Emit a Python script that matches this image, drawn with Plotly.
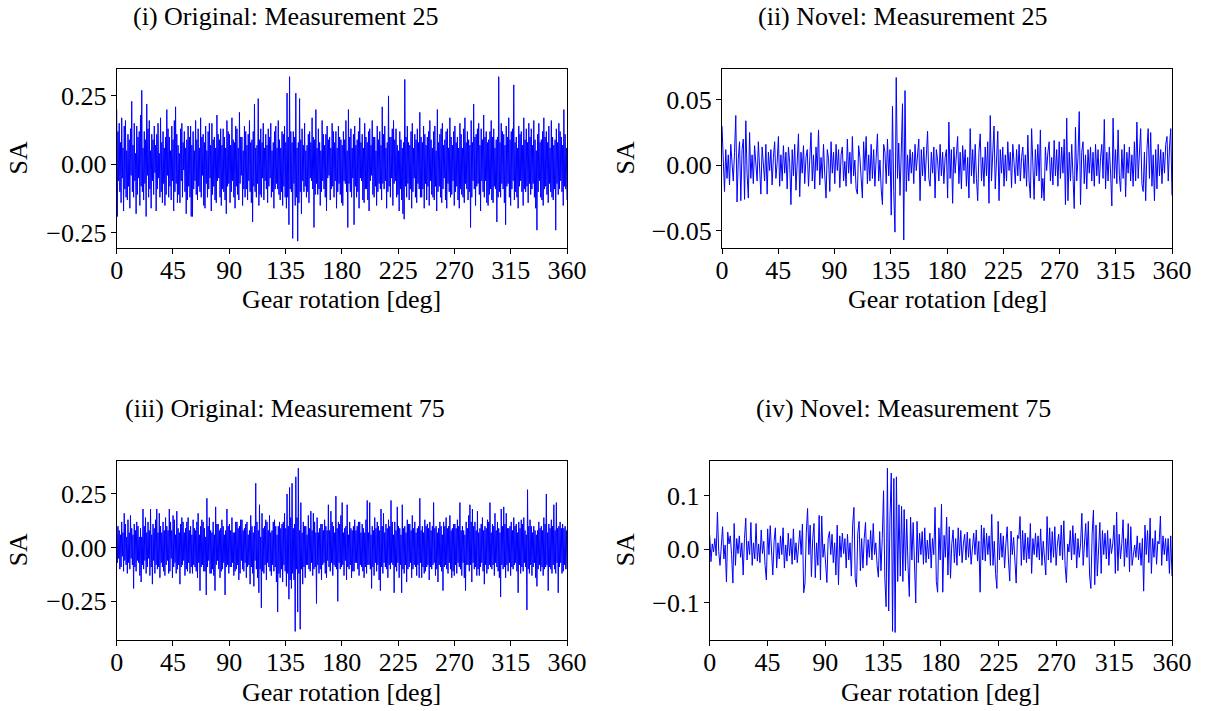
import numpy as np
import plotly.graph_objects as go

# Synchronous-average (SA) signals over one gear revolution
sa_orig_25 = [
    .20, -.19, .12, -.06, .15, -.10, .08, -.14, .17, -.05, .06, -.17, .14, -.09, .16, -.12, .05, -.13, .11, -.08,
    .09, -.16, .13, -.04, .23, -.10, .07, -.12, .15, -.06, .04, -.18, .14, -.11, .10, -.05, .12, -.15, .18, -.08,
    .27, -.10, .06, -.13, .12, -.07, .09, -.19, .22, -.04, .13, -.12, .16, -.09, .05, -.16, .11, -.06, .09, -.11,
    .14, -.03, .07, -.17, .11, -.09, .15, -.05, .04, -.12, .17, -.10, .08, -.14, .12, -.07, .06, -.15, .10, -.11,
    .20, -.04, .13, -.12, .10, -.08, .05, -.13, .14, -.06, .09, -.17, .16, -.10, .21, -.07, .11, -.14, .07, -.11,
    .04, -.14, .13, -.06, .15, -.12, .08, -.02, .12, -.10, .06, -.18, .09, -.13, .14, -.08, .10, -.12, .14, -.19,
    .07, -.19, .12, -.09, .05, -.06, .16, -.11, .09, -.13, .13, -.08, .06, -.10, .17, -.12, .10, -.04, .11, -.15,
    .08, -.16, .14, -.07, .05, -.12, .12, -.09, .15, -.05, .07, -.17, .15, -.11, .09, -.08, .10, -.13, .06, -.14,
    .18, -.06, .11, -.05, .09, -.12, .13, -.15, .07, -.09, .13, -.10, .10, -.13, .06, -.18, .16, -.08, .12, -.07,
    .11, -.14, .07, -.10, .17, -.06, .09, -.12, .08, -.16, .14, -.08, .13, -.11, .06, -.13, .19, -.07, .10, -.04,
    .10, -.15, .05, -.09, .14, -.12, .12, -.09, .07, -.13, .11, -.06, .16, -.10, .08, -.14, .09, -.21, .12, -.08,
    .22, -.10, .06, -.12, .07, -.07, .24, -.15, .09, -.11, .13, -.12, .08, -.05, .15, -.13, .06, -.06, .11, -.09,
    .07, -.14, .13, -.08, .10, -.05, .15, -.12, .05, -.10, .08, -.16, .12, -.09, .14, -.07, .06, -.09, .16, -.11,
    .09, -.13, .06, -.10, .12, -.15, .11, -.08, .14, -.12, .08, -.16, .26, -.12, .10, -.22, .32, -.09, .12, -.10,
    .08, -.27, .12, -.07, .10, -.15, .26, -.12, .06, -.28, .08, -.14, .24, -.10, .09, -.18, .13, -.06, .07, -.10,
    .15, -.08, .05, -.12, .07, -.10, .11, -.14, .12, -.05, .08, -.06, .17, -.09, .10, -.23, .09, -.11, .20, -.07,
    .06, -.11, .13, -.09, .08, -.15, .05, -.10, .16, -.06, .11, -.09, .07, -.12, .11, -.17, .14, -.05, .09, -.04,
    .10, -.13, .06, -.09, .15, -.08, .12, -.12, .08, -.06, .12, -.16, .06, -.10, .14, -.07, .10, -.11, .09, -.14,
    .07, -.15, .12, -.06, .09, -.07, .16, -.10, .05, -.23, .20, -.07, .10, -.10, .13, -.12, .06, -.05, .11, -.22,
    .14, -.08, .07, -.12, .09, -.10, .12, -.16, .17, -.05, .08, -.06, .11, -.13, .06, -.14, .15, -.09, .10, -.09,
    .08, -.13, .12, -.17, .13, -.06, .07, -.04, .16, -.11, .10, -.12, .10, -.08, .05, -.15, .14, -.10, .09, -.07,
    .12, -.09, .07, -.13, .21, -.07, .11, -.09, .14, -.06, .06, -.16, .08, -.10, .25, -.08, .10, -.12, .10, -.05,
    .13, -.15, .16, -.07, .09, -.06, .13, -.12, .07, -.11, .05, -.17, .12, -.09, .09, -.13, .06, -.18, .08, -.20,
    .31, -.08, .10, -.12, .14, -.07, .08, -.13, .07, -.09, .12, -.16, .15, -.10, .06, -.05, .11, -.12, .09, -.14,
    .13, -.07, .08, -.09, .19, -.12, .10, -.12, .08, -.09, .14, -.16, .11, -.07, .07, -.13, .10, -.08, .12, -.15,
    .16, -.06, .09, -.11, .06, -.12, .12, -.13, .14, -.08, .05, -.17, .20, -.10, .08, -.08, .11, -.12, .13, -.14,
    .15, -.09, .07, -.05, .09, -.13, .12, -.16, .13, -.07, .06, -.10, .17, -.12, .10, -.11, .07, -.06, .12, -.15,
    .14, -.10, .08, -.08, .10, -.13, .06, -.16, .15, -.09, .11, -.11, .06, -.12, .13, -.14, .17, -.07, .08, -.09,
    .12, -.13, .09, -.10, .07, -.23, .16, -.12, .08, -.06, .22, -.09, .10, -.15, .11, -.08, .13, -.07, .15, -.11,
    .07, -.17, .13, -.06, .09, -.10, .18, -.12, .10, -.06, .12, -.14, .08, -.15, .09, -.11, .12, -.09, .16, -.13,
    .10, -.14, .13, -.08, .06, -.09, .09, -.21, .10, -.12, .32, -.10, .08, -.12, .15, -.07, .12, -.09, .11, -.14,
    .07, -.22, .14, -.08, .10, -.07, .17, -.12, .09, -.15, .12, -.09, .13, -.06, .29, -.13, .08, -.10, .10, -.12,
    .06, -.16, .14, -.08, .11, -.06, .12, -.10, .07, -.15, .17, -.09, .09, -.10, .13, -.08, .08, -.14, .15, -.07,
    .10, -.11, .13, -.09, .07, -.07, .16, -.12, .09, -.16, .05, -.24, .11, -.10, .15, -.06, .08, -.12, .09, -.13,
    .12, -.15, .17, -.09, .10, -.08, .12, -.11, .08, -.14, .14, -.07, .06, -.10, .16, -.12, .10, -.13, .07, -.09,
    .09, -.24, .13, -.07, .08, -.11, .15, -.09, .12, -.06, .10, -.10, .07, -.15, .20, -.08, .11, -.09, .06, -.13,
]

sa_novel_25 = [
    .030, -.005, -.020, .012, -.010, .008, -.015, .016, .002, -.012, .010, .038, -.028, .005, .018, -.027, .012, .020, -.026, .034, -.006, -.025, .025, -.010, .008, -.014, .015, -.003, -.012, .018,
    -.008, -.022, .014, .004, -.012, .016, -.022, .010, -.004, .012, -.015, .006, .018, -.010, .002, .022, -.016, .008, -.012, .015, -.006, .010, -.018, .014, .002, -.030, .012, -.008, .016, -.019,
    .008, .024, -.024, .010, -.006, .015, -.014, .006, .012, -.016, .004, .025, -.012, .008, -.018, .014, -.004, .027, -.015, .006, -.010, .016, -.008, -.025, .012, .005, -.020, .018, -.006, .010,
    -.014, .016, -.004, .012, -.017, .008, .014, -.012, .003, -.016, .020, -.006, .010, -.014, .022, -.008, .004, -.018, -.022, .015, .006, -.010, -.025, .018, -.004, .022, -.014, .008, -.012, .016,
    -.010, .012, -.016, .006, .024, -.012, .004, -.018, -.030, .016, .010, -.014, .020, -.008, .012, -.038, .045, -.020, -.051, .067, -.010, .017, -.023, .010, .047, -.057, .057, -.020, .008, -.012,
    .012, -.006, .010, -.014, .016, -.004, .008, .020, -.027, .012, -.008, .014, -.012, .004, .026, -.010, -.016, .010, -.006, .014, -.025, .012, .004, -.012, .016, -.008, .010, -.014, .006, .012,
    -.025, .033, -.010, .012, -.029, .014, -.006, .008, .022, -.014, .010, -.018, .015, -.004, .012, -.016, .006, -.025, .028, -.008, .012, -.014, .016, -.010, -.027, .010, .024, -.012, .006, -.016,
    .014, -.008, .018, -.029, .038, -.012, .010, .030, -.018, .006, .026, -.027, .012, -.006, .014, -.016, .008, -.012, .018, -.004, .010, -.017, .016, .002, -.014, .012, -.008, .016, -.012, .006,
    .014, -.010, .008, -.016, .023, -.012, -.025, .028, -.006, -.026, .012, -.008, .016, -.012, .027, -.025, -.010, -.027, .014, -.004, .010, .018, -.012, .006, -.015, .019, -.008, .012, -.016, .018,
    -.010, .014, -.006, .020, -.030, .036, -.027, .010, -.012, .016, -.008, -.033, .029, -.012, .006, .041, -.030, .010, .018, -.014, .008, -.018, .012, -.006, .014, -.012, .010, -.016, .016, -.008,
    .012, -.014, .006, .016, -.010, .035, -.018, .010, -.012, .014, -.006, -.031, .036, -.010, .012, -.014, .027, -.008, -.020, .012, -.010, .016, -.024, .010, -.006, .014, -.012, .008, -.016, .018,
    -.012, .033, -.010, .014, .028, -.014, -.020, .010, -.027, .012, .028, -.010, .025, -.016, .008, -.027, .012, -.018, .016, -.008, .012, -.014, .010, -.006, .016, .022, -.012, .014, .028, -.023,
]

sa_orig_75 = [
    .09, -.07, .10, -.05, .08, -.10, .06, -.09, .12, -.04, .07, -.11, .16, -.06, .11, -.08, .05, -.12, .13, -.07,
    .07, -.10, .15, -.05, .09, -.08, .06, -.19, .11, -.09, .08, -.11, .12, -.06, .10, -.07, .05, -.13, .09, -.16,
    .05, -.08, .18, -.10, .10, -.06, .14, -.12, .07, -.09, .12, -.05, .08, -.13, .18, -.09, .06, -.17, .11, -.06,
    .09, -.12, .13, -.08, .18, -.10, .07, -.09, .16, -.14, .10, -.07, .07, -.09, .12, -.11, .08, -.13, .14, -.08,
    .10, -.06, .08, -.12, .18, -.11, .12, -.05, .08, -.14, .15, -.09, .13, -.07, .06, -.12, .17, -.10, .09, -.08,
    .07, -.17, .11, -.09, .14, -.08, .12, -.06, .07, -.13, .09, -.10, .12, -.11, .14, -.07, .08, -.12, .10, -.09,
    .06, -.12, .13, -.08, .09, -.09, .08, -.11, .12, -.14, .16, -.07, .06, -.20, .10, -.09, .13, -.08, .12, -.11,
    .09, -.11, .05, -.22, .23, -.09, .10, -.06, .14, -.12, .08, -.12, .07, -.10, .12, -.13, .06, -.20, .19, -.08,
    .11, -.06, .11, -.10, .08, -.14, .09, -.11, .13, -.10, .10, -.07, .06, -.22, .08, -.09, .18, -.08, .10, -.12,
    .11, -.09, .08, -.09, .14, -.07, .07, -.13, .07, -.11, .12, -.10, .12, -.08, .09, -.15, .10, -.12, .13, -.06,
    .13, -.10, .08, -.11, .09, -.07, .11, -.14, .12, -.09, .06, -.08, .08, -.17, .15, -.09, .10, -.12, .07, -.18,
    .10, -.06, .30, -.10, .12, -.14, .08, -.21, .20, -.10, .05, -.28, .16, -.11, .09, -.12, .10, -.08, .13, -.15,
    .12, -.07, .08, -.09, .15, -.11, .07, -.13, .08, -.08, .12, -.11, .13, -.09, .10, -.16, .06, -.30, .10, -.12,
    .12, -.14, .09, -.10, .11, -.16, .12, -.08, .16, -.11, .09, -.18, .25, -.12, .10, -.24, .28, -.15, .14, -.19,
    .30, -.12, .09, -.15, .11, -.39, .33, -.10, .14, -.30, .37, -.12, .08, -.38, .21, -.10, .07, -.17, .12, -.09,
    .10, -.14, .10, -.08, .06, -.08, .15, -.10, .09, -.11, .17, -.07, .08, -.13, .16, -.10, .12, -.09, .07, -.26,
    .14, -.08, .07, -.12, .09, -.10, .11, -.15, .11, -.08, .08, -.07, .13, -.12, .10, -.14, .08, -.06, .20, -.09,
    .08, -.11, .17, -.07, .12, -.13, .10, -.08, .07, -.09, .24, -.10, .09, -.25, .12, -.07, .11, -.10, .15, -.09,
    .21, -.08, .07, -.13, .09, -.06, .10, -.15, .20, -.09, .06, -.10, .12, -.08, .09, -.14, .08, -.11, .10, -.11,
    .13, -.07, .08, -.07, .10, -.10, .12, -.13, .12, -.08, .07, -.09, .11, -.11, .09, -.14, .07, -.09, .13, -.12,
    .22, -.08, .07, -.08, .21, -.10, .06, -.19, .10, -.09, .08, -.13, .14, -.07, .09, -.11, .12, -.08, .10, -.15,
    .08, -.20, .18, -.09, .10, -.12, .16, -.07, .07, -.09, .11, -.10, .09, -.14, .13, -.08, .10, -.10, .22, -.07,
    .12, -.08, .06, -.21, .12, -.09, .08, -.11, .19, -.07, .10, -.14, .09, -.08, .06, -.21, .20, -.10, .09, -.12,
    .10, -.08, .07, -.16, .13, -.10, .11, -.09, .11, -.07, .08, -.14, .15, -.10, .09, -.08, .12, -.09, .07, -.13,
    .09, -.08, .10, -.14, .23, -.07, .08, -.14, .10, -.09, .07, -.12, .13, -.11, .10, -.09, .11, -.08, .09, -.15,
    .12, -.09, .08, -.10, .10, -.08, .21, -.07, .09, -.13, .10, -.10, .07, -.16, .09, -.08, .12, -.09, .10, -.11,
    .06, -.20, .12, -.09, .10, -.08, .14, -.10, .09, -.12, .10, -.07, .15, -.10, .08, -.14, .09, -.11, .11, -.13,
    .11, -.08, .09, -.12, .13, -.07, .10, -.09, .21, -.10, .08, -.13, .10, -.07, .08, -.14, .06, -.20, .12, -.08,
    .09, -.08, .15, -.11, .20, -.08, .12, -.16, .18, -.07, .10, -.10, .12, -.09, .08, -.13, .17, -.10, .07, -.13,
    .09, -.09, .11, -.07, .14, -.11, .08, -.17, .10, -.08, .09, -.12, .13, -.10, .12, -.08, .21, -.09, .07, -.10,
    .11, -.08, .10, -.13, .16, -.07, .08, -.09, .12, -.11, .09, -.14, .07, -.23, .18, -.08, .10, -.10, .19, -.09,
    .11, -.14, .16, -.08, .09, -.11, .09, -.07, .10, -.13, .12, -.09, .08, -.10, .14, -.08, .10, -.07, .11, -.11,
    .07, -.21, .12, -.08, .09, -.12, .13, -.09, .11, -.11, .14, -.07, .08, -.09, .06, -.29, .27, -.10, .10, -.12,
    .13, -.08, .10, -.13, .07, -.09, .10, -.07, .08, -.14, .06, -.18, .08, -.10, .12, -.08, .09, -.11, .10, -.09,
    .08, -.13, .14, -.10, .11, -.09, .25, -.08, .07, -.20, .11, -.09, .09, -.10, .13, -.12, .10, -.08, .20, -.10,
    .08, -.12, .21, -.07, .09, -.21, .10, -.09, .12, -.07, .09, -.12, .11, -.11, .09, -.08, .10, -.10, .08, -.10,
]

sa_novel_75 = [
    .027, -.023, .010, -.005, .020, -.012, .069, -.004, -.030, .015, .042, -.018, .008, -.061, .032, .010, .025, -.010, -.063, .048, -.030, .020, -.008, .025, -.015, .012, -.048, .020, .058, -.020,
    .015, -.010, .050, -.030, .012, -.018, .048, -.022, .010, -.025, .036, -.008, .015, -.030, -.057, .038, -.010, .044, -.020, -.048, .015, .040, -.035, .012, -.018, .025, -.010, .040, -.035, .008,
    -.022, .030, -.012, .020, -.028, .038, -.020, .012, -.025, .015, .035, -.010, .047, -.081, -.063, .030, .076, -.010, .045, -.051, .020, .048, -.053, .012, -.030, .063, -.057, .062, -.015, .010,
    -.030, -.062, .020, .033, -.010, .028, -.025, .012, -.048, .045, -.066, .025, -.015, .030, -.008, .020, -.035, .028, -.020, .012, -.050, .045, .078, -.055, -.070, .030, .052, -.040, .020, -.035,
    .020, .050, -.030, .018, -.015, .035, -.020, .048, -.010, .012, -.030, -.052, .033, -.040, .020, .109, -.054, -.107, .151, -.115, .060, .142, -.153, .132, -.155, .135, -.060, .083, -.050, .080,
    -.060, .074, -.040, .056, -.030, -.088, .060, -.020, .050, -.040, -.100, .052, -.025, .030, -.010, .033, -.028, .040, -.025, .017, -.018, .030, -.035, .020, -.010, .078, -.060, -.080, .040, -.020,
    .084, -.080, .026, -.015, .060, -.048, .042, -.054, .010, .036, -.025, .020, -.030, .040, -.012, .035, -.025, .010, .028, -.020, .032, -.015, .020, -.028, .012, .030, -.010, .036, -.022, .015,
    -.080, .045, -.020, .040, -.022, .030, -.010, .025, -.030, .065, -.030, .015, -.045, -.073, .052, -.020, .030, -.015, .025, -.035, .010, .042, -.020, -.059, .034, -.010, .022, -.030, -.063, .026,
    .020, .061, -.030, .035, -.020, .030, -.025, .022, -.018, .048, -.045, .020, -.010, .030, -.015, .025, -.020, .038, -.030, .015, -.022, -.048, .061, -.020, .040, -.025, .033, -.015, .042, -.030,
    .010, .028, -.012, .045, -.020, .053, -.030, -.062, .010, -.005, .035, -.020, .044, -.010, .030, -.035, .020, -.015, .010, .067, -.030, .015, .048, -.015, .052, -.048, -.073, .030, .073, -.066,
    .045, -.050, .020, .050, -.045, .035, -.010, .030, -.018, .035, -.030, .020, -.008, .010, .045, -.045, .069, -.040, .028, -.018, .010, .055, -.032, .020, -.015, .048, -.042, .042, -.030, -.010,
    .008, -.015, .025, -.020, .012, -.030, .020, -.078, .045, -.010, .035, -.025, .058, -.045, .020, -.015, .035, -.028, .015, .010, .062, -.030, .025, -.010, .020, -.022, .020, -.045, .025, -.050,
]

titles = ["(i) Original: Measurement 25", "(ii) Novel: Measurement 25",
          "(iii) Original: Measurement 75", "(iv) Novel: Measurement 75"]
x_ticks = [0, 45, 90, 135, 180, 225, 270, 315, 360]
y_ticks_orig = [-0.25, 0.0, 0.25]
y_ticks_novel_25 = [-0.05, 0.0, 0.05]
y_ticks_novel_75 = [-0.1, 0.0, 0.1]

W, H = 1207, 711
FONT = dict(family="Liberation Serif", size=26, color="black")
LINE = "#0000ff"


def fx(p):
    return p / W


def fy(p):
    return 1 - p / H


def fmt(v, nd):
    s = f"{abs(v):.{nd}f}"
    return ("\u2212" + s) if v < 0 else s


# panel layout: pixel box (left, right, top, bottom), y range, y ticks, decimals, title centre
panels = [
    (sa_orig_25, (116.7, 567, 69, 248), (-0.305, 0.348), y_ticks_orig, 2, (285, 16)),
    (sa_novel_25, (722, 1172, 69, 248), (-0.0631, 0.0735), y_ticks_novel_25, 2, (903, 16)),
    (sa_orig_75, (116.7, 567, 460.7, 640), (-0.430, 0.405), y_ticks_orig, 2, (285, 408)),
    (sa_novel_75, (709.7, 1172, 460.7, 640), (-0.169, 0.165), y_ticks_novel_75, 1, (903, 408)),
]

fig = go.Figure()
annotations = []
for i, (vals, box, yr, yt, nd, tpos) in enumerate(panels):
    n = i + 1
    sfx = str(n) if n > 1 else ""
    left, right, top, bottom = box
    deg = np.linspace(0, 360, len(vals))
    fig.add_trace(go.Scatter(x=deg, y=vals, mode="lines",
                             line=dict(color=LINE, width=1),
                             xaxis="x" + sfx, yaxis="y" + sfx,
                             showlegend=False, hoverinfo="skip"))
    common = dict(showgrid=False, zeroline=False, showline=True, linecolor="black",
                  linewidth=1, mirror=True, ticks="outside", ticklen=5, tickwidth=1,
                  tickcolor="black", tickfont=FONT, automargin=False)
    fig.layout["xaxis" + sfx] = dict(domain=[fx(left), fx(right)], range=[0, 360],
                                     anchor="y" + sfx, tickvals=x_ticks,
                                     ticktext=[str(t) for t in x_ticks],
                                     ticklabelstandoff=-6, **common)
    fig.layout["yaxis" + sfx] = dict(domain=[fy(bottom), fy(top)], range=list(yr),
                                     anchor="x" + sfx, tickvals=yt,
                                     ticktext=[fmt(t, nd) for t in yt],
                                     ticklabelstandoff=-1, **common)
    cx = (left + right) / 2
    cy = (top + bottom) / 2
    annotations.append(dict(text=titles[i], x=fx(tpos[0]), y=fy(tpos[1]), xref="paper",
                            yref="paper", showarrow=False, font=FONT,
                            xanchor="center", yanchor="middle"))
    annotations.append(dict(text="Gear rotation [deg]", x=fx(cx), y=fy(bottom + 52),
                            xref="paper", yref="paper", showarrow=False, font=FONT,
                            xanchor="center", yanchor="middle"))
    annotations.append(dict(text="SA", x=fx(18 if left < 300 else 625), y=fy(cy),
                            xref="paper", yref="paper", showarrow=False, font=FONT,
                            textangle=-90, xanchor="center", yanchor="middle"))

fig.update_layout(width=W, height=H, margin=dict(l=0, r=0, t=0, b=0),
                  paper_bgcolor="white", plot_bgcolor="white",
                  annotations=annotations)
fig.write_html("out.html")
